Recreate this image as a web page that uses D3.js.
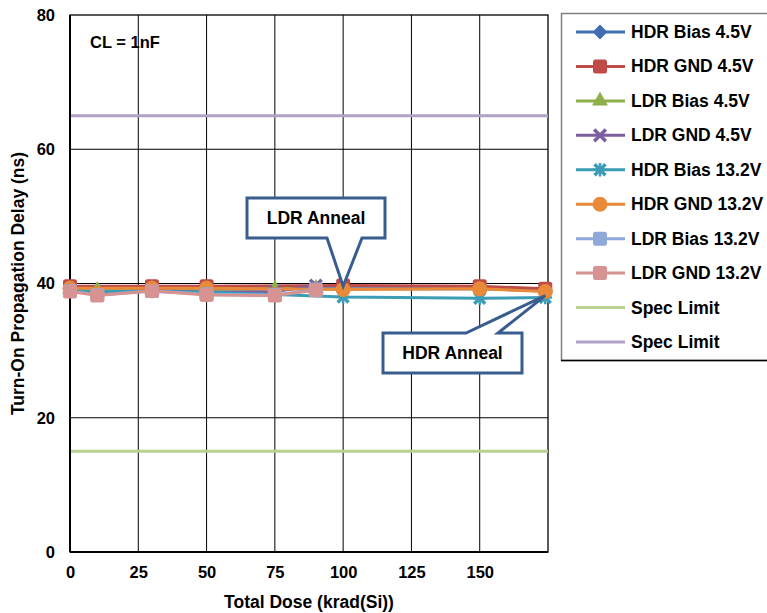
<!DOCTYPE html>
<html>
<head>
<meta charset="utf-8">
<script src="https://cdn.jsdelivr.net/npm/d3@7"></script>
<style>
  html, body { margin: 0; padding: 0; background: #fff; }
  svg { display: block; font-family: "Liberation Sans", Arial, sans-serif; font-weight: bold; }
</style>
</head>
<body>
<svg id="chart" width="767" height="613"></svg>
<script>
// Dose points (krad(Si)); last HDR point is the anneal step
const hdrDose = [0, 30, 50, 100, 150, 174];
const ldrDose = [0, 10, 30, 50, 75, 90];

// Turn-on propagation delay (ns)
const hdrBias45  = [39.3, 39.3, 39.3, 39.2, 39.2, 38.9];
const hdrGnd45   = [39.6, 39.6, 39.6, 39.7, 39.6, 39.2];
const ldrBias45  = [39.2, 39.0, 39.2, 39.1, 39.2, 39.3];
const ldrGnd45   = [39.0, 38.6, 39.0, 38.7, 38.8, 39.7];
const hdrBias132 = [38.9, 38.8, 38.7, 38.0, 37.8, 37.9];
const hdrGnd132  = [39.3, 39.3, 39.3, 39.1, 39.2, 38.8];
const ldrBias132 = [38.9, 38.3, 38.9, 38.4, 38.3, 39.1];
const ldrGnd132  = [38.8, 38.2, 38.9, 38.3, 38.2, 39.0];
const specLow = 15;
const specHigh = 65;

const xTicks = [0, 25, 50, 75, 100, 125, 150];
const yTicks = [0, 20, 40, 60, 80];

const series = [
  { name: "HDR Bias 4.5V",  x: hdrDose, y: hdrBias45,  color: "#3F6FB1", marker: "diamond" },
  { name: "HDR GND 4.5V",   x: hdrDose, y: hdrGnd45,   color: "#BE4B48", marker: "square" },
  { name: "LDR Bias 4.5V",  x: ldrDose, y: ldrBias45,  color: "#8DB04B", marker: "triangle" },
  { name: "LDR GND 4.5V",   x: ldrDose, y: ldrGnd45,   color: "#7B5EA0", marker: "x" },
  { name: "HDR Bias 13.2V", x: hdrDose, y: hdrBias132, color: "#3D9DB7", marker: "star" },
  { name: "HDR GND 13.2V",  x: hdrDose, y: hdrGnd132,  color: "#E88A3A", marker: "circle" },
  { name: "LDR Bias 13.2V", x: ldrDose, y: ldrBias132, color: "#8EA9D9", marker: "square" },
  { name: "LDR GND 13.2V",  x: ldrDose, y: ldrGnd132,  color: "#D69391", marker: "square" }
];
const specs = [
  { name: "Spec Limit", value: specLow,  color: "#B9D18F" },
  { name: "Spec Limit", value: specHigh, color: "#B2A1C8" }
];

const FONT = 17.5;
const svg = d3.select("#chart");
const plot = { left: 70, right: 548, top: 15, bottom: 552 };

const x = d3.scaleLinear().domain([0, 175]).range([plot.left, plot.right]);
const y = d3.scaleLinear().domain([0, 80]).range([plot.bottom, plot.top]);

// Gridlines
const grid = svg.append("g");
grid.selectAll("line.v").data(xTicks.filter(d => d > 0)).join("line")
  .attr("x1", d => x(d)).attr("x2", d => x(d))
  .attr("y1", plot.top).attr("y2", plot.bottom)
  .attr("stroke", "#000").attr("stroke-width", 1);
grid.selectAll("line.h").data(yTicks.filter(d => d > 0 && d < 80)).join("line")
  .attr("x1", plot.left).attr("x2", plot.right)
  .attr("y1", d => y(d)).attr("y2", d => y(d))
  .attr("stroke", "#000").attr("stroke-width", 1);

// Plot frame
svg.append("rect")
  .attr("x", plot.left).attr("y", plot.top)
  .attr("width", plot.right - plot.left).attr("height", plot.bottom - plot.top)
  .attr("fill", "none").attr("stroke", "#000").attr("stroke-width", 1.3);
svg.append("line")
  .attr("x1", plot.left).attr("x2", plot.left).attr("y1", plot.top).attr("y2", plot.bottom)
  .attr("stroke", "#000").attr("stroke-width", 2);
svg.append("line")
  .attr("x1", plot.left).attr("x2", plot.right).attr("y1", plot.bottom).attr("y2", plot.bottom)
  .attr("stroke", "#000").attr("stroke-width", 2);

// Axes
const yAxis = svg.append("g")
  .attr("transform", `translate(${plot.left},0)`)
  .call(d3.axisLeft(y).tickValues(yTicks).tickSize(0).tickPadding(15));
const xAxis = svg.append("g")
  .attr("transform", `translate(0,${plot.bottom})`)
  .call(d3.axisBottom(x).tickValues(xTicks).tickSize(0).tickPadding(14));
[yAxis, xAxis].forEach(a => {
  a.select(".domain").remove();
  a.selectAll("text").attr("font-size", 16.5).attr("font-weight", "bold")
    .attr("font-family", "Liberation Sans, Arial, sans-serif").attr("fill", "#000");
});

svg.append("text")
  .attr("x", (plot.left + plot.right) / 2).attr("y", 608)
  .attr("text-anchor", "middle").attr("font-size", FONT).text("Total Dose (krad(Si))");
svg.append("text")
  .attr("transform", `translate(24,${(plot.top + plot.bottom) / 2}) rotate(-90)`)
  .attr("text-anchor", "middle").attr("font-size", FONT).text("Turn-On Propagation Delay (ns)");

svg.append("text").attr("x", 90).attr("y", 48).attr("font-size", 16.5).text("CL = 1nF");

// Spec limits
svg.selectAll("line.spec").data(specs).join("line")
  .attr("x1", plot.left + 1).attr("x2", plot.right)
  .attr("y1", d => y(d.value)).attr("y2", d => y(d.value))
  .attr("stroke", d => d.color).attr("stroke-width", 3);

// Marker drawing
function drawMarker(g, type, color) {
  if (type === "diamond") {
    g.append("path").attr("d", d3.symbol(d3.symbolSquare, 110)()).attr("transform", "rotate(45)")
      .attr("fill", color);
  } else if (type === "square") {
    g.append("rect").attr("x", -7).attr("y", -7).attr("width", 14).attr("height", 14)
      .attr("rx", 2.5).attr("fill", color);
  } else if (type === "triangle") {
    g.append("path").attr("d", d3.symbol(d3.symbolTriangle, 110)()).attr("fill", color);
  } else if (type === "x") {
    g.append("path").attr("d", d3.symbol(d3.symbolX, 90)())
      .attr("fill", "none").attr("stroke", color).attr("stroke-width", 3.5);
  } else if (type === "star") {
    g.append("path").attr("d", d3.symbol(d3.symbolX, 80)())
      .attr("fill", "none").attr("stroke", color).attr("stroke-width", 3.5);
    g.append("path").attr("d", d3.symbol(d3.symbolPlus, 60)())
      .attr("fill", "none").attr("stroke", color).attr("stroke-width", 2.5);
  } else if (type === "circle") {
    g.append("circle").attr("r", 7.5).attr("fill", color);
  }
}

const line = d3.line().x(d => x(d[0])).y(d => y(d[1]));

series.forEach(s => {
  const pts = s.x.map((d, i) => [d, s.y[i]]);
  const g = svg.append("g");
  g.append("path").datum(pts).attr("d", line)
    .attr("fill", "none").attr("stroke", s.color).attr("stroke-width", 3)
    .attr("stroke-linejoin", "round");
  g.selectAll("g.m").data(pts).join("g")
    .attr("transform", d => `translate(${x(d[0])},${y(d[1])})`)
    .each(function () { drawMarker(d3.select(this), s.marker, s.color); });
});

// Callouts
function callout(box, base, tip, label) {
  const [bx, by, bw, bh] = box;
  const onTop = tip[1] < by;
  let pts;
  if (onTop) {
    pts = [[bx, by], [base[0], by], tip, [base[1], by], [bx + bw, by], [bx + bw, by + bh], [bx, by + bh]];
  } else {
    pts = [[bx, by], [bx + bw, by], [bx + bw, by + bh], [base[1], by + bh], tip, [base[0], by + bh], [bx, by + bh]];
  }
  svg.append("path")
    .attr("d", "M" + pts.map(p => p.join(",")).join("L") + "Z")
    .attr("fill", "#fff").attr("stroke", "#3A5D8F").attr("stroke-width", 3)
    .attr("stroke-linejoin", "miter");
  svg.append("text").attr("x", bx + bw / 2).attr("y", by + bh / 2 + 6)
    .attr("text-anchor", "middle").attr("font-size", FONT).text(label);
}
callout([247, 198, 138, 40], [327, 362], [x(100), y(39.6)], "LDR Anneal");
callout([383, 333, 139, 40], [466, 498], [x(174), y(37.9) - 2], "HDR Anneal");

// Legend
const legend = svg.append("g");
legend.append("rect").attr("x", 561.5).attr("y", 13.5).attr("width", 220).attr("height", 347)
  .attr("fill", "#fff").attr("stroke", "#808080").attr("stroke-width", 1.5);
legend.append("line").attr("x1", 561).attr("x2", 767).attr("y1", 360.5).attr("y2", 360.5)
  .attr("stroke", "#000").attr("stroke-width", 1.5);
const entries = series.map(s => ({ name: s.name, color: s.color, marker: s.marker }))
  .concat(specs.map(s => ({ name: s.name, color: s.color, marker: null })));
const ly = d3.scaleLinear().domain([0, entries.length - 1]).range([32, 342]);
entries.forEach((e, i) => {
  const g = legend.append("g").attr("transform", `translate(0,${ly(i)})`);
  g.append("line").attr("x1", 576).attr("x2", 625).attr("y1", 0).attr("y2", 0)
    .attr("stroke", e.color).attr("stroke-width", 3);
  if (e.marker) drawMarker(g.append("g").attr("transform", "translate(600,0)"), e.marker, e.color);
  g.append("text").attr("x", 631).attr("y", 6).attr("font-size", FONT).text(e.name);
});
</script>
</body>
</html>
